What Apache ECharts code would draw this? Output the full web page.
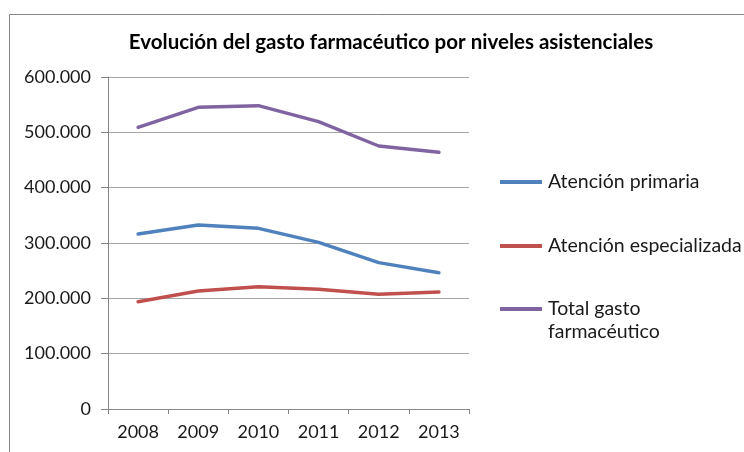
<!DOCTYPE html>
<html><head><meta charset="utf-8">
<script src="https://cdn.jsdelivr.net/npm/echarts@6/dist/echarts.min.js"></script>
<style>html,body{margin:0;padding:0;background:#fff}#c{width:744px;height:452px}</style>
</head><body><div id="c"></div>
<script>
const categories = ['2008','2009','2010','2011','2012','2013'];
const primaria = [316300, 332500, 326500, 301200, 264500, 246400];
const especializada = [194000, 213300, 221000, 216300, 207300, 211400];
const total = [509100, 545200, 548200, 519300, 475300, 463900];
const seriesNames = ['Atención primaria', 'Atención especializada', 'Total gasto farmacéutico'];
const titleText = 'Evolución del gasto farmacéutico por niveles asistenciales';

const FONT = 'Lato';
const colors = ['#4F81BD', '#C0504D', '#8064A2'];
const fmt = v => v === 0 ? '0' : String(v).replace(/\B(?=(\d{3})+(?!\d))/g, '.');

const legendBase = {
  orient: 'vertical', left: 500, padding: 0, icon: 'rect', itemWidth: 42, itemHeight: 4, itemGap: 5,
  textStyle: { fontFamily: FONT, fontSize: 19.5, color: '#1a1a1a', padding: [0,0,0,1] },
  selectedMode: false
};

const chart = echarts.init(document.getElementById('c'), null, { renderer: 'canvas' });
chart.setOption({
  animation: false,
  color: colors,
  title: {
    text: titleText, left: 386, textAlign: 'center', top: 27,
    textStyle: { fontFamily: FONT, fontSize: 20.5, fontWeight: 'bold', color: '#000' }
  },
  graphic: [
    { type: 'rect', shape: { x: 9.5, y: 14.5, width: 800, height: 500 }, style: { fill: 'none', stroke: '#858585', lineWidth: 1 }, silent: true },
    { type: 'text', left: 548, top: 322, style: { text: 'farmacéutico', font: '19.5px ' + FONT, fill: '#1a1a1a' } }
  ],
  legend: [
    Object.assign({}, legendBase, { top: 172, data: [seriesNames[0]] }),
    Object.assign({}, legendBase, { top: 236, data: [seriesNames[1]] }),
    Object.assign({}, legendBase, { top: 299, data: [seriesNames[2]], formatter: () => 'Total gasto' })
  ],
  grid: { left: 108, right: 275, top: 77, bottom: 43 },
  xAxis: {
    type: 'category', data: categories, boundaryGap: true,
    axisLine: { lineStyle: { color: '#868686', width: 1 } },
    axisTick: { show: true, length: 5, lineStyle: { color: '#868686' } },
    axisLabel: { fontFamily: FONT, fontSize: 18, color: '#1a1a1a', margin: 14 },
    splitLine: { show: false }
  },
  yAxis: {
    type: 'value', min: 0, max: 600000, interval: 100000,
    axisLine: { show: true, lineStyle: { color: '#868686', width: 1 } },
    axisTick: { show: true, length: 7, inside: false, lineStyle: { color: '#868686' } },
    axisLabel: { fontFamily: FONT, fontSize: 18, color: '#1a1a1a', margin: 17, formatter: fmt },
    splitLine: { show: true, lineStyle: { color: '#A6A6A6', width: 1 } }
  },
  series: [
    { name: seriesNames[0], type: 'line', data: primaria, symbol: 'none', lineStyle: { width: 3.5, cap: 'round', join: 'round' } },
    { name: seriesNames[1], type: 'line', data: especializada, symbol: 'none', lineStyle: { width: 3.5, cap: 'round', join: 'round' } },
    { name: seriesNames[2], type: 'line', data: total, symbol: 'none', lineStyle: { width: 3.5, cap: 'round', join: 'round' } }
  ]
});
</script></body></html>
